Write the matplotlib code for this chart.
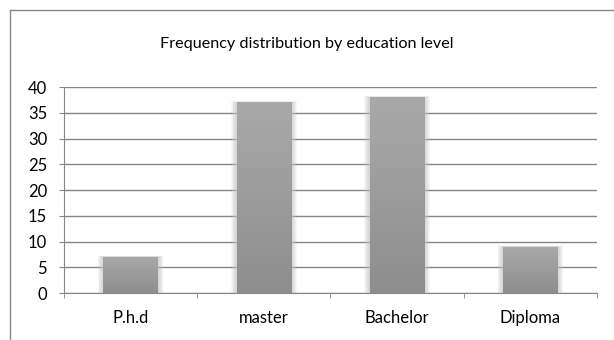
import numpy as np
import matplotlib
matplotlib.use("Agg")
import matplotlib.pyplot as plt
from matplotlib.lines import Line2D
from matplotlib.patches import Rectangle

# data
levels = ["P.h.d", "master", "Bachelor", "Diploma"]
counts = [7, 37, 38, 9]
y_ticks = [0, 5, 10, 15, 20, 25, 30, 35, 40]
title = "Frequency distribution by education level"

plt.rcParams['font.family'] = ['Lato', 'DejaVu Sans']

fig = plt.figure(figsize=(6.14, 3.40), dpi=100)
ax = fig.add_axes([0.1042, 0.1382, 0.8681, 0.6059])

grid_col = "#868686"
x = np.arange(len(levels))
w = 0.41

# soft shadow round each bar
for i, v in enumerate(counts):
    for k in np.linspace(0.04, 0.005, 8):
        ax.add_patch(Rectangle((x[i] - w / 2 - k, 0), w + 2 * k, v + k * 6,
                               facecolor="#c4c4c4", edgecolor="none", alpha=0.12, zorder=2))

bars = ax.bar(x, counts, width=w, color="#9a9a9a", edgecolor="none", zorder=3)

# vertical gradient, lighter at top
grad = np.linspace(0, 1, 256).reshape(-1, 1)
cmap = matplotlib.colors.LinearSegmentedColormap.from_list("g", ["#8e8e8e", "#a9a9a9"])
for b in bars:
    bx, by = b.get_x(), b.get_y()
    bw, bh = b.get_width(), b.get_height()
    im = ax.imshow(grad, cmap=cmap, aspect="auto", origin="lower",
                   extent=[bx, bx + bw, by, by + bh], zorder=4)
    im.set_clip_path(b)

ax.set_xlim(-0.5, len(levels) - 0.5)
ax.set_ylim(0, 40)
ax.set_yticks(y_ticks)
ax.set_xticks(x)
ax.set_xticklabels(levels, fontsize=12)
ax.set_xticks(np.arange(len(levels) + 1) - 0.5, minor=True)
ax.tick_params(axis="x", which="major", length=0, pad=12)
ax.tick_params(axis="x", which="minor", length=3.6, color=grid_col, direction="out")
ax.tick_params(axis="y", length=3.6, color=grid_col, labelsize=12, pad=8.5)
ax.yaxis.grid(True, color=grid_col, linewidth=1)
ax.set_axisbelow(True)
for s in ["top", "right"]:
    ax.spines[s].set_visible(False)
for s in ["left", "bottom"]:
    ax.spines[s].set_color(grid_col)

fig.text(0.5, 1 - 44 / 340, title, ha="center", va="center", fontsize=11.6)

# outer chart frame (only top and left edges visible)
fig.add_artist(Line2D([10 / 614, 1], [1 - 10 / 340, 1 - 10 / 340], color=grid_col, lw=1))
fig.add_artist(Line2D([10 / 614, 10 / 614], [0, 1 - 10 / 340], color=grid_col, lw=1))

fig.savefig("out.png", dpi=100)
